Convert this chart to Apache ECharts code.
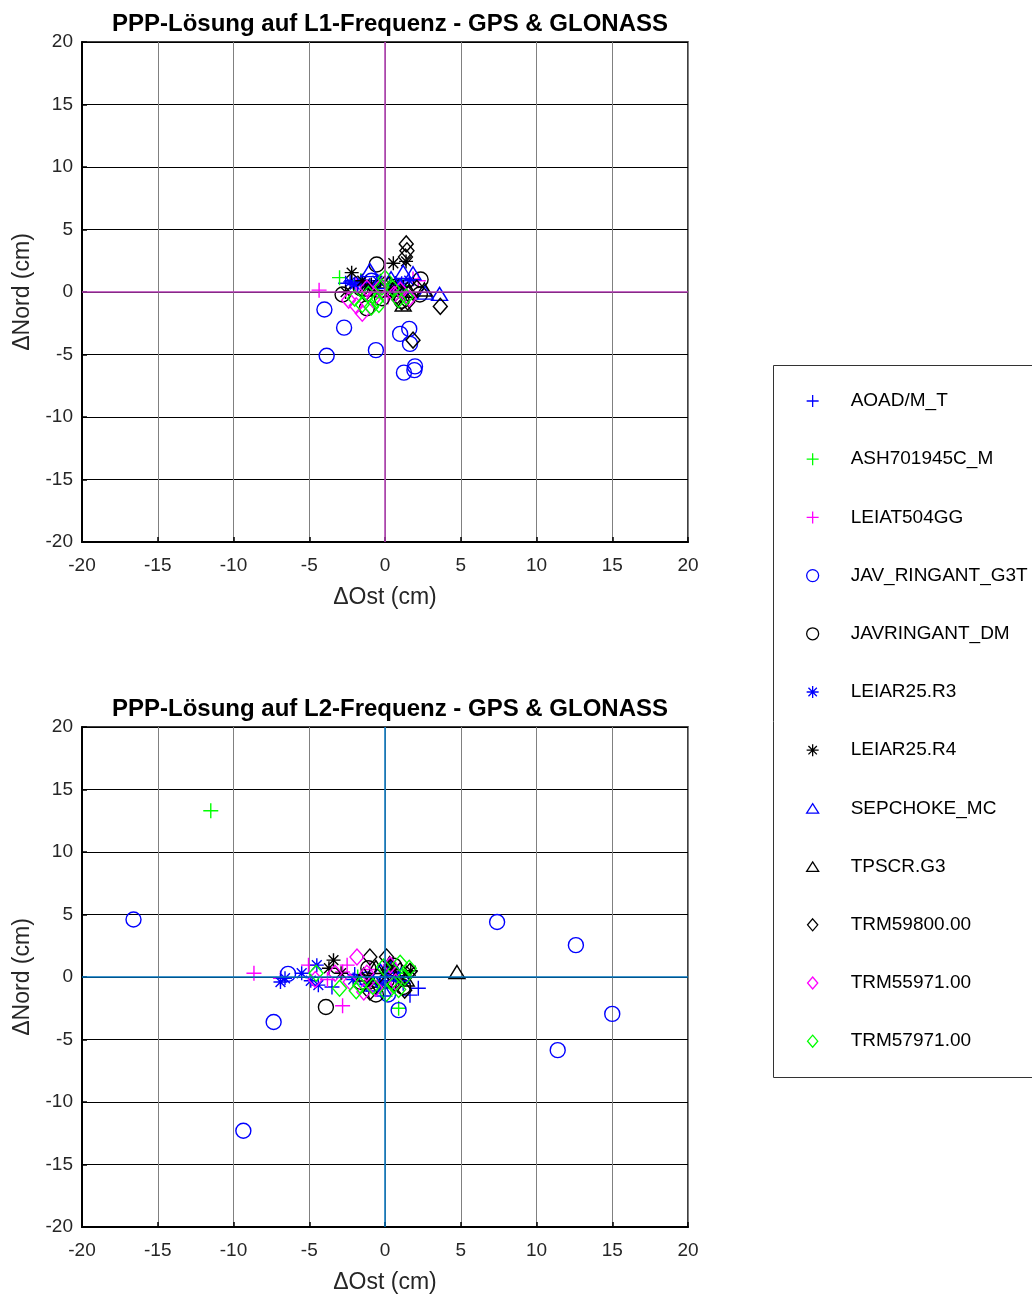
<!DOCTYPE html>
<html>
<head>
<meta charset="utf-8">
<script src="https://cdn.jsdelivr.net/npm/echarts@6/dist/echarts.min.js"></script>
<style>
  html, body { margin: 0; padding: 0; background: #fff; }
  #chart { width: 1032px; height: 1295px; }
</style>
</head>
<body>
<div id="chart"></div>
<script>
// Antenna types (legend order)
const antennas = ['AOAD/M_T', 'ASH701945C_M', 'LEIAT504GG', 'JAV_RINGANT_G3T', 'JAVRINGANT_DM',
  'LEIAR25.R3', 'LEIAR25.R4', 'SEPCHOKE_MC', 'TPSCR.G3', 'TRM59800.00', 'TRM55971.00', 'TRM57971.00'];

// Axis ticks (cm)
const axisTicks = [-20, -15, -10, -5, 0, 5, 10, 15, 20];

// L1 solution: [ΔOst, ΔNord] in cm
const l1_AOAD = [[-2.6,0.7],[-2.2,0.9],[-1.8,0.5],[-1.5,0.8],[-0.9,0.3],[0.3,0.6],[0.9,0.2],[1.4,-0.1]];
const l1_ASH = [[-3.0,1.15],[-1.6,0.9],[-0.4,0.3],[0.6,-0.3],[1.2,0.5]];
const l1_LEIAT504 = [[-4.35,0.15],[1.85,1.05],[-1.9,0.6],[0.2,-0.4],[2.2,0.9]];
const l1_JAV_G3T = [[-4.0,-1.4],[-2.7,-2.85],[-3.85,-5.1],[-0.6,-4.65],[1.0,-3.35],[1.6,-2.95],[1.65,-4.15],[1.25,-6.45],[1.98,-5.95],[1.94,-6.25],[-0.9,0.9]];
const l1_JAV_DM = [[-0.55,2.2],[-2.8,-0.2],[-1.2,-1.3],[2.35,1.0],[2.3,-0.2],[0.6,0.4],[-0.2,-0.5],[-1.6,0.3],[1.1,-0.7]];
const l1_LEIAR_R3 = [[-2.3,0.8],[-2.0,0.6],[-1.6,0.85],[-1.3,0.7],[-1.0,0.5],[-0.5,0.9],[0.4,0.2],[1.1,0.7],[1.6,0.9]];
const l1_LEIAR_R4 = [[-2.2,1.55],[0.55,2.3],[1.39,2.45],[-2.6,0.0],[-1.5,0.9],[-0.9,0.6],[-0.3,0.9],[0.2,0.3],[0.7,0.7],[1.2,0.4],[-0.6,0.1]];
const l1_SEPCHOKE = [[-1.0,1.75],[1.2,1.6],[1.85,1.5],[2.65,-0.05],[3.6,-0.15],[1.0,0.5],[-0.4,0.8],[0.4,1.1]];
const l1_TPSCR = [[1.2,-1.0],[0.5,0.2],[-0.3,0.5],[1.6,0.1],[-1.1,0.2],[2.6,0.2]];
const l1_TRM59800 = [[1.4,3.85],[1.45,3.3],[1.35,2.8],[3.65,-1.15],[1.85,-3.85],[1.1,-0.8],[1.5,-0.8],[0.8,-0.3],[-0.2,0.1],[0.3,0.6],[-1.3,-0.1],[2.1,0.3]];
const l1_TRM55971 = [[-2.4,-0.65],[-1.5,-1.7],[-1.9,-1.1],[1.0,0.15],[-0.8,-0.6],[-0.3,0.4],[0.6,-0.2],[1.6,-0.5],[-1.2,0.3]];
const l1_TRM57971 = [[-2.0,-0.5],[-1.1,-0.2],[-0.55,-0.65],[0.0,1.1],[-0.2,0.4],[1.4,-0.4],[-1.5,-1.0],[0.5,0.3],[-0.9,-1.2],[0.9,-0.6],[-0.4,-1.0]];

// L2 solution: [ΔOst, ΔNord] in cm
const l2_AOAD = [[2.2,-0.9],[1.65,-1.45],[0.2,-0.3],[-1.2,-0.6],[-3.5,-0.8],[1.2,-0.5],[-2.0,0.2]];
const l2_ASH = [[-11.5,13.3],[0.9,-2.5],[-0.5,-0.6],[1.3,0.3],[-1.8,0.0]];
const l2_LEIAT504 = [[-8.65,0.3],[-2.8,-2.3],[-5.05,0.95],[-2.5,0.95],[-2.8,0.4],[-3.8,-0.2],[-1.0,0.6],[0.4,-0.8],[-6.9,-0.1]];
const l2_JAV_G3T = [[-16.6,4.6],[7.4,4.4],[12.6,2.55],[15.0,-2.95],[11.4,-5.85],[-9.35,-12.3],[-7.35,-3.6],[-6.4,0.25],[0.9,-2.65],[0.2,-1.4],[-1.2,-0.2],[0.5,0.3]];
const l2_JAV_DM = [[-3.9,-2.4],[-1.1,0.7],[0.1,-0.3],[-0.6,-1.4],[1.2,-0.8],[0.6,0.9],[-1.6,-0.4]];
const l2_LEIAR_R3 = [[-6.6,-0.1],[-5.5,0.3],[-4.5,0.95],[-4.4,-0.65],[-4.9,-0.3],[-6.9,-0.4],[-2.1,-0.2],[-0.3,-0.4],[0.7,0.1]];
const l2_LEIAR_R4 = [[-3.4,1.35],[-3.7,0.7],[-2.9,0.3],[-1.0,-0.5],[0.4,0.8],[1.0,-0.3],[1.7,0.5]];
const l2_SEPCHOKE = [[-0.3,0.5],[0.5,0.9],[1.1,0.2],[-0.9,-0.6],[-0.1,-1.0]];
const l2_TPSCR = [[4.75,0.4],[-0.6,0.8],[0.3,1.1],[1.4,-0.2],[-1.4,0.2]];
const l2_TRM59800 = [[-1.0,1.6],[0.1,1.6],[1.65,0.45],[1.3,-1.05],[-0.5,0.0],[0.6,-0.5],[1.0,0.5],[-1.0,-1.2],[0.3,0.4]];
const l2_TRM55971 = [[-1.85,1.6],[-3.3,0.3],[-2.3,-0.4],[0.35,0.95],[-1.2,0.3],[-0.6,-0.9],[0.7,-0.4],[-4.6,-0.2],[-1.4,-1.2]];
const l2_TRM57971 = [[-4.55,0.3],[-3.0,-0.9],[-1.65,-0.65],[-0.8,-0.75],[-0.1,0.8],[1.0,1.1],[1.3,0.0],[0.1,-1.3],[0.6,-0.6],[-1.9,-1.1],[0.9,-1.0],[1.6,0.7]];

const l1Data = [l1_AOAD, l1_ASH, l1_LEIAT504, l1_JAV_G3T, l1_JAV_DM, l1_LEIAR_R3, l1_LEIAR_R4, l1_SEPCHOKE, l1_TPSCR, l1_TRM59800, l1_TRM55971, l1_TRM57971];
const l2Data = [l2_AOAD, l2_ASH, l2_LEIAT504, l2_JAV_G3T, l2_JAV_DM, l2_LEIAR_R3, l2_LEIAR_R4, l2_SEPCHOKE, l2_TPSCR, l2_TRM59800, l2_TRM55971, l2_TRM57971];

// Marker shapes
const PLUS = 'path://M0,-10L0,10M-10,0L10,0';
const STAR = 'path://M0,-10L0,10M-10,0L10,0M-7,-7L7,7M-7,7L7,-7';
const CIRCLE = 'circle';
const TRI = 'path://M0,-8L9.5,7L-9.5,7Z';
const DIAM = 'path://M0,-10L8.5,0L0,10L-8.5,0Z';

const BLUE = '#0000FF', GREEN = '#00FF00', MAG = '#FF00FF', BLACK = '#000000';
const styles = [
  { sym: PLUS, col: BLUE, size: [15, 15] },
  { sym: PLUS, col: GREEN, size: [15, 15] },
  { sym: PLUS, col: MAG, size: [15, 15] },
  { sym: CIRCLE, col: BLUE, size: 15 },
  { sym: CIRCLE, col: BLACK, size: 15 },
  { sym: STAR, col: BLUE, size: [14, 14] },
  { sym: STAR, col: BLACK, size: [14, 14] },
  { sym: TRI, col: BLUE, size: [16, 13] },
  { sym: TRI, col: BLACK, size: [16, 13] },
  { sym: DIAM, col: BLACK, size: [14, 16] },
  { sym: DIAM, col: MAG, size: [14, 16] },
  { sym: DIAM, col: GREEN, size: [14, 16] }
];

const FONT = 'Liberation Sans, Arial, sans-serif';
const grids = [
  { left: 82, top: 42, width: 606, height: 500, show: true, borderColor: '#000', borderWidth: 1.5, backgroundColor: '#fff' },
  { left: 82, top: 727, width: 606, height: 500, show: true, borderColor: '#000', borderWidth: 1.5, backgroundColor: '#fff' }
];

function makeX(i) {
  return {
    type: 'value', gridIndex: i, min: -20, max: 20, interval: 5,
    name: 'ΔOst (cm)', nameLocation: 'middle', nameGap: 44,
    nameTextStyle: { fontFamily: FONT, fontSize: 23, color: '#262626' },
    axisLine: { show: true, onZero: false, lineStyle: { color: '#000', width: 2 } },
    axisTick: { show: true, inside: true, length: 5, lineStyle: { color: '#000', width: 1.5 } },
    axisLabel: { fontFamily: FONT, fontSize: 19, color: '#262626', margin: 14,
      formatter: v => axisTicks.includes(v) ? String(v) : '' },
    splitLine: { show: true, lineStyle: { color: '#808080', width: 1 } }
  };
}
function makeY(i) {
  return {
    type: 'value', gridIndex: i, min: -20, max: 20, interval: 5,
    name: 'ΔNord (cm)', nameLocation: 'middle', nameGap: 48,
    nameTextStyle: { fontFamily: FONT, fontSize: 23, color: '#262626' },
    axisLine: { show: true, onZero: false, lineStyle: { color: '#000', width: 2 } },
    axisTick: { show: true, inside: true, length: 5, lineStyle: { color: '#000', width: 1.5 } },
    axisLabel: { fontFamily: FONT, fontSize: 19, color: '#262626', margin: 9,
      formatter: v => axisTicks.includes(v) ? String(v) : '' },
    splitLine: { show: true, lineStyle: { color: '#000', width: 1 } }
  };
}

const series = [];
[l1Data, l2Data].forEach((set, gi) => {
  const zeroColor = gi === 0 ? '#B23AB2' : '#0072BD';
  // zero reference lines
  series.push({
    type: 'scatter', xAxisIndex: gi, yAxisIndex: gi, data: [], silent: true, z: 1,
    markLine: {
      silent: true, symbol: ['none', 'none'], animation: false,
      label: { show: false },
      lineStyle: { color: zeroColor, width: 1.5, type: 'solid' },
      data: [{ xAxis: 0 }, { yAxis: 0 }]
    }
  });
  set.forEach((pts, k) => {
    const s = styles[k];
    series.push({
      type: 'scatter', name: antennas[k], xAxisIndex: gi, yAxisIndex: gi,
      data: pts, symbol: s.sym, symbolSize: s.size, symbolKeepAspect: false,
      itemStyle: { color: 'rgba(0,0,0,0)', borderColor: s.col, borderWidth: 1.4, opacity: 1 },
      emphasis: { disabled: true }, z: 3, animation: false
    });
  });
});

const chart = echarts.init(document.getElementById('chart'), null, { renderer: 'canvas' });
chart.setOption({
  backgroundColor: '#fff',
  animation: false,
  title: [
    { text: 'PPP-Lösung auf L1-Frequenz - GPS & GLONASS', left: 385, top: 7, textAlign: 'center',
      textStyle: { fontFamily: FONT, fontSize: 24, fontWeight: 'bold', color: '#000' } },
    { text: 'PPP-Lösung auf L2-Frequenz - GPS & GLONASS', left: 385, top: 692, textAlign: 'center',
      textStyle: { fontFamily: FONT, fontSize: 24, fontWeight: 'bold', color: '#000' } }
  ],
  graphic: [
    { type: 'rect', left: 773, top: 365, shape: { width: 300, height: 712 },
      style: { fill: '#fff', stroke: '#333', lineWidth: 1 }, z: -1, silent: true }
  ],
  legend: {
    orient: 'vertical', left: 806, top: 391, padding: 0,
    itemWidth: 12, itemHeight: 12, itemGap: 38.2, selectedMode: false,
    textStyle: { fontFamily: FONT, fontSize: 19, color: '#000', lineHeight: 20, padding: [0, 0, 0, 27] },
    data: antennas.map((n, k) => ({
      name: n, icon: styles[k].sym,
      itemStyle: { color: 'rgba(0,0,0,0)', borderColor: styles[k].col, borderWidth: 1.3 }
    }))
  },
  grid: grids,
  xAxis: [makeX(0), makeX(1)],
  yAxis: [makeY(0), makeY(1)],
  series: series
});
</script>
</body>
</html>
